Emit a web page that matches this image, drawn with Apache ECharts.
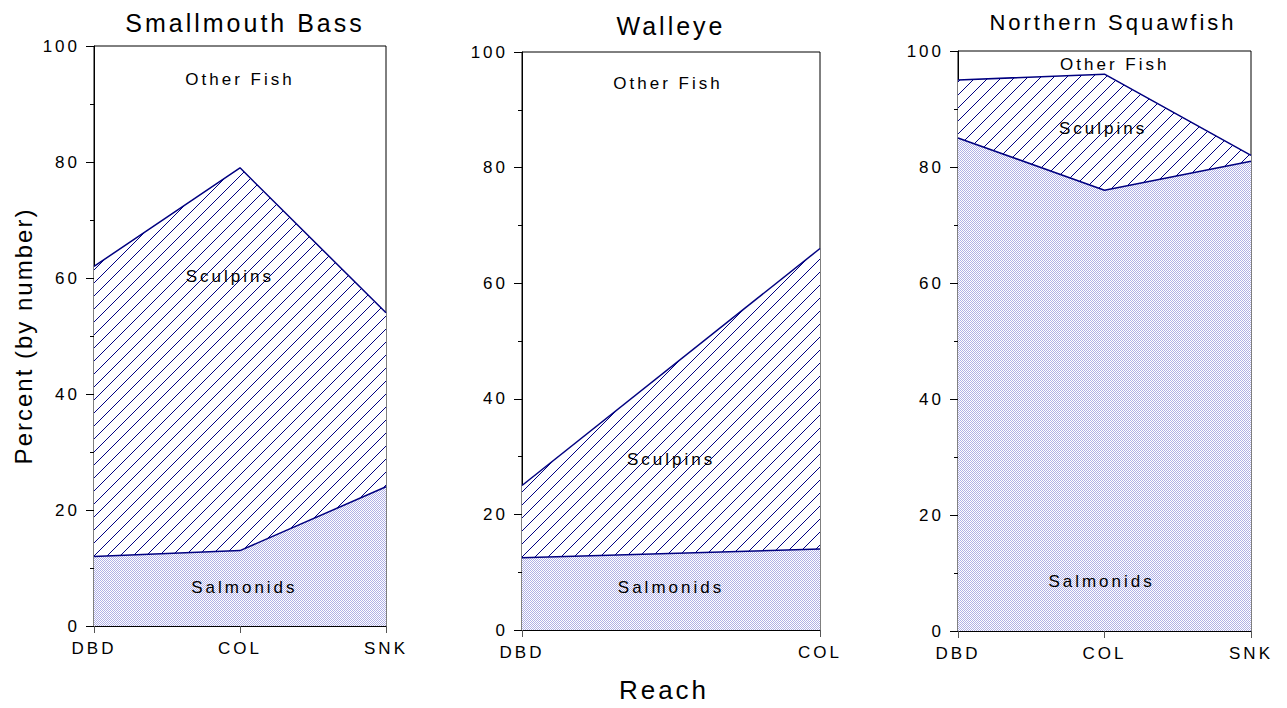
<!DOCTYPE html>
<html>
<head>
<meta charset="utf-8">
<script src="https://cdn.jsdelivr.net/npm/echarts@6/dist/echarts.min.js"></script>
<style>
  html, body { margin: 0; padding: 0; background: #fff; }
  #main { width: 1287px; height: 708px; }
</style>
</head>
<body>
<div id="main"></div>
<script>
// reaches sampled for each predator
const reachSmb = ['DBD', 'COL', 'SNK'];
const reachWal = ['DBD', 'COL'];
const reachNsq = ['DBD', 'COL', 'SNK'];

// boundary between salmonids and sculpins (percent)
const salmonidsSmb = [12, 13, 24];
const salmonidsWal = [12.5, 14];
const salmonidsNsq = [85, 76, 81];

// boundary between sculpins and other fish (percent, cumulative)
const sculpinTopSmb = [62, 79, 54];
const sculpinTopWal = [25, 66];
const sculpinTopNsq = [95, 96, 82];

const titles = ['Smallmouth Bass', 'Walleye', 'Northern Squawfish'];
const regionNames = ['Other Fish', 'Sculpins', 'Salmonids'];

// where the region names sit, in data units [x, y]
const labelAnchors = [
  [[1.0, 94.2], [0.93, 60.2], [1.03, 6.6]],
  [[0.49, 94.5], [0.5, 29.5], [0.5, 7.4]],
  [[1.07, 97.6], [0.99, 86.7], [0.98, 8.6]]
];

const NAVY = '#000080';
const FONT = 'Liberation Sans';
const SPACING = 3; // the original print is letter-spaced
const YNAME = 'Percent (by number)';

// diagonal hatch for sculpins
function hatchPattern() {
  const s = 13;
  const c = document.createElement('canvas');
  c.width = s; c.height = s;
  const ctx = c.getContext('2d');
  ctx.fillStyle = '#fff';
  ctx.fillRect(0, 0, s, s);
  ctx.strokeStyle = NAVY;
  ctx.lineWidth = 1;
  [-s, 0, s].forEach(function (o) {
    ctx.beginPath();
    ctx.moveTo(o - 1, s + 1);
    ctx.lineTo(o + s + 1, -1);
    ctx.stroke();
  });
  return c.toDataURL();
}

// fine dot screen for salmonids
function dotPattern() {
  const c = document.createElement('canvas');
  c.width = 2; c.height = 2;
  const ctx = c.getContext('2d');
  ctx.fillStyle = '#fff';
  ctx.fillRect(0, 0, 2, 2);
  ctx.fillStyle = '#b0b0e6';
  ctx.fillRect(0, 0, 1, 1);
  ctx.fillRect(1, 1, 1, 1);
  return c.toDataURL();
}

var hatch = hatchPattern();
var dots = dotPattern();

var dom = document.getElementById('main');
var myChart = echarts.init(dom, null, { renderer: 'svg' });
var option;

const panels = [
  { cats: reachSmb, salm: salmonidsSmb, top: sculpinTopSmb },
  { cats: reachWal, salm: salmonidsWal, top: sculpinTopWal },
  { cats: reachNsq, salm: salmonidsNsq, top: sculpinTopNsq }
];

const grids = [
  { left: 94, top: 46, width: 292, height: 580 },
  { left: 522, top: 52, width: 298, height: 579 },
  { left: 958, top: 51, width: 293, height: 580 }
];

const titleX = [240, 666, 1108];
const titleY = [5, 8, 6];
const titleSize = [25, 25, 22];

option = {
  backgroundColor: '#fff',
  animation: false,
  textStyle: { fontFamily: FONT },
  title: titles.map(function (t, i) {
    return {
      text: t,
      left: titleX[i],
      top: titleY[i],
      textAlign: 'center',
      textStyle: { fontFamily: FONT, fontSize: titleSize[i], fontWeight: 'normal', color: '#000' }
    };
  }),
  grid: grids.map(function (g) {
    return Object.assign({ show: true, borderColor: '#000', borderWidth: 1, containLabel: false }, g);
  }),
  xAxis: panels.map(function (p, i) {
    return {
      type: 'value',
      gridIndex: i,
      min: 0,
      max: p.cats.length - 1,
      interval: 1,
      name: i === 1 ? 'Reach' : '',
      nameLocation: 'middle',
      nameGap: 47,
      nameTextStyle: { fontFamily: FONT, fontSize: 26, color: '#000', padding: [0, 14, 0, 0] },
      axisLine: { show: true, lineStyle: { color: '#000', width: 1 } },
      axisTick: { show: true, length: 7, lineStyle: { color: '#555' } },
      axisLabel: {
        margin: 14,
        fontSize: 17,
        color: '#000',
        fontFamily: FONT,
        formatter: function (v) { return p.cats[v] || ''; }
      },
      splitLine: { show: false }
    };
  }),
  yAxis: panels.map(function (p, i) {
    return {
      type: 'value',
      gridIndex: i,
      min: 0,
      max: 100,
      interval: 20,
      name: i === 0 ? YNAME : '',
      nameLocation: 'middle',
      nameGap: 59,
      nameTextStyle: { fontFamily: FONT, fontSize: 24, color: '#000' },
      axisLine: { show: true, lineStyle: { color: '#000', width: 1 } },
      axisTick: { show: true, length: 8, lineStyle: { color: '#000' } },
      minorTick: { show: true, splitNumber: 2, length: 4, lineStyle: { color: '#000' } },
      axisLabel: { margin: 14, fontSize: 17, color: '#000', fontFamily: FONT },
      splitLine: { show: false },
      minorSplitLine: { show: false }
    };
  }),
  series: []
};

panels.forEach(function (p, i) {
  option.series.push({
    name: 'Sculpins',
    type: 'line',
    xAxisIndex: i,
    yAxisIndex: i,
    data: p.top.map(function (v, k) { return [k, v]; }),
    symbol: 'none',
    lineStyle: { color: NAVY, width: 1.5 },
    areaStyle: { color: { image: hatch, repeat: 'repeat' }, opacity: 1 },
    z: 2
  });
  option.series.push({
    name: 'Salmonids',
    type: 'line',
    xAxisIndex: i,
    yAxisIndex: i,
    data: p.salm.map(function (v, k) { return [k, v]; }),
    symbol: 'none',
    lineStyle: { color: NAVY, width: 1.5 },
    areaStyle: { color: { image: dots, repeat: 'repeat' }, opacity: 1 },
    z: 3
  });
  option.series.push({
    name: 'labels',
    type: 'scatter',
    xAxisIndex: i,
    yAxisIndex: i,
    symbolSize: 0,
    silent: true,
    z: 5,
    itemStyle: { color: '#000', opacity: 1 },
    data: labelAnchors[i].map(function (a, k) {
      return { value: a, name: regionNames[k] };
    }),
    label: {
      show: true,
      position: 'inside',
      formatter: '{b}',
      fontSize: 17,
      color: '#000',
      opacity: 1,
      textBorderWidth: 0,
      fontFamily: FONT
    }
  });
});

function applySpacing() {
  dom.querySelectorAll('text').forEach(function (t) {
    t.setAttribute('letter-spacing', t.textContent === YNAME ? 2 : SPACING);
  });
}

if (option && typeof option === 'object') {
  myChart.on('finished', applySpacing);
  myChart.setOption(option);
  applySpacing();
  setTimeout(applySpacing, 30);
}
</script>
</body>
</html>
